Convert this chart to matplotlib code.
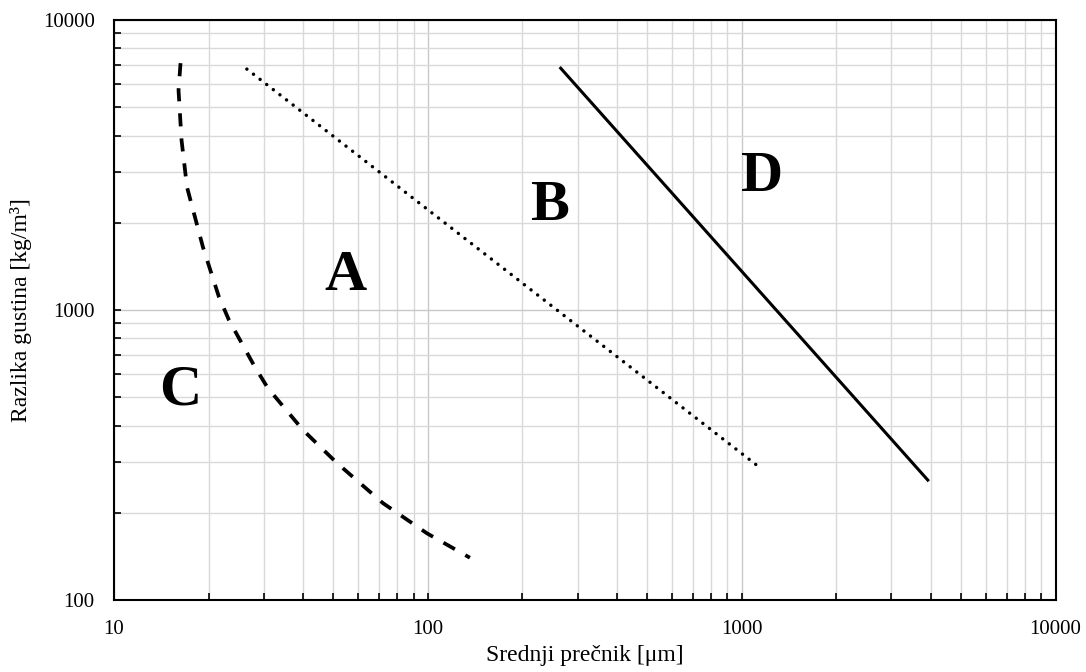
import matplotlib
matplotlib.use('Agg')
import matplotlib.pyplot as plt
from matplotlib.ticker import LogLocator, NullFormatter, FixedLocator, FixedFormatter

plt.rcParams['font.family'] = ['Liberation Serif', 'DejaVu Serif']

# Granica C/A (isprekidana)
c_x = [16.29, 16.05, 16.41, 17.08, 19.20, 21.60, 23.24, 28.12, 30.93, 39.99, 51.31, 71.90, 99.27, 136.1]
c_y = [7107, 5736, 3857, 2656, 1649, 1109, 924, 636, 538, 386, 297, 216, 170, 140]

# Granica A/B (tackasta)
b_x = [26.5, 1125]
b_y = [6780, 290]

# Granica B/D (puna)
d_x = [263, 3945]
d_y = [6890, 257]

# Oznake grupa
grupe = ['A', 'B', 'C', 'D']
grupe_x = [54.8, 243.7, 16.3, 1159]
grupe_y = [1172, 2041, 474, 2570]

x_ticks = [10, 100, 1000, 10000]
y_ticks = [100, 1000, 10000]

fig = plt.figure(figsize=(10.86, 6.72), dpi=100)
ax = fig.add_axes([0.105, 0.107, 0.867, 0.863])

ax.set_xscale('log')
ax.set_yscale('log')
ax.set_xlim(10, 10000)
ax.set_ylim(100, 10000)

ax.grid(True, which='minor', color='#d9d9d9', linewidth=1.0)
ax.grid(True, which='major', color='#c8c8c8', linewidth=1.0)
ax.set_axisbelow(True)

ax.plot(c_x, c_y, color='black', linewidth=2.7, dashes=(3.5, 3.2))
ax.plot(b_x, b_y, color='black', linewidth=2.5, linestyle=(0, (0.01, 2.4)),
        dash_capstyle='round')
ax.plot(d_x, d_y, color='black', linewidth=2.2, solid_capstyle='butt')

for g, gx, gy in zip(grupe, grupe_x, grupe_y):
    ax.text(gx, gy, g, fontsize=42, fontweight='bold', ha='center', va='baseline')

ax.xaxis.set_major_locator(FixedLocator(x_ticks))
ax.xaxis.set_major_formatter(FixedFormatter([str(v) for v in x_ticks]))
ax.yaxis.set_major_locator(FixedLocator(y_ticks))
ax.yaxis.set_major_formatter(FixedFormatter([str(v) for v in y_ticks]))
ax.xaxis.set_minor_locator(LogLocator(base=10, subs=range(2, 10)))
ax.yaxis.set_minor_locator(LogLocator(base=10, subs=range(2, 10)))
ax.xaxis.set_minor_formatter(NullFormatter())
ax.yaxis.set_minor_formatter(NullFormatter())

ax.tick_params(which='both', direction='in', length=5, width=1.2, color='black',
               top=False, right=False)
ax.tick_params(axis='x', which='major', labelsize=15, pad=14)
ax.tick_params(axis='y', which='major', labelsize=15, pad=14)

for s in ax.spines.values():
    s.set_linewidth(1.5)
    s.set_color('black')

ax.set_xlabel('Srednji prečnik [μm]', fontsize=17, labelpad=5)
ax.set_ylabel('Razlika gustina [kg/m³]', fontsize=17, labelpad=8)

fig.savefig('out.png', dpi=100)
